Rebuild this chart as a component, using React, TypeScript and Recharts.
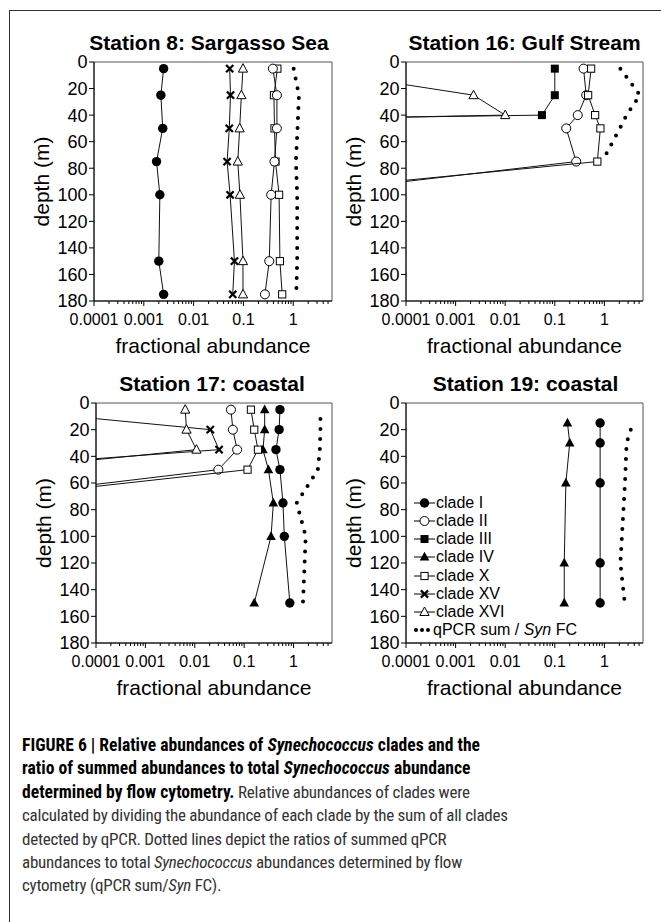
import React from 'react';
import { ScatterChart, Scatter, XAxis, YAxis, ReferenceArea } from 'recharts';

const FONT = 'Liberation Sans, Arial, sans-serif';
const NARROW = 'Roboto Condensed, Liberation Sans, sans-serif';

// axes
const DEPTH_TICKS = [0, 20, 40, 60, 80, 100, 120, 140, 160, 180];
const X_MAJOR = [0.0001, 0.001, 0.01, 0.1, 1];
const X_DOMAIN: [number, number] = [0.0001, 6];
// minor ticks 2..9 inside each decade (axis decoration only)
const X_MINOR = [0.0001, 0.001, 0.01, 0.1, 1]
  .flatMap((d) => [2, 3, 4, 5, 6, 7, 8, 9].map((m) => +(m * d).toPrecision(2)))
  .filter((v) => v < X_DOMAIN[1]);
const X_TICKS = [...X_MAJOR, ...X_MINOR].sort((a, b) => a - b);

// Station 8: Sargasso Sea
const s8Depth = [5, 25, 50, 75, 100, 150, 175];
const s8I = [0.0025, 0.0022, 0.0024, 0.0018, 0.0021, 0.002, 0.0025];
const s8II = [0.39, 0.47, 0.47, 0.42, 0.36, 0.33, 0.27];
const s8X = [0.48, 0.41, 0.42, 0.44, 0.52, 0.54, 0.6];
const s8XV = [0.053, 0.055, 0.052, 0.047, 0.054, 0.066, 0.061];
const s8XVI = [0.098, 0.091, 0.084, 0.077, 0.085, 0.098, 0.098];
const s8Sum = [1.02, 1.3, 1.22, 1.13, 1.2, 1.2, 1.15];

// Station 16: Gulf Stream (near-zero values run off the left edge)
const s16Depth = [5, 25, 40, 50, 75, 100];
const s16II = [0.38, 0.43, 0.29, 0.17, 0.27, 5e-7];
const s16X = [0.54, 0.47, 0.65, 0.83, 0.72, 1e-7];
const s16DepthIII = [5, 25, 40, 50];
const s16III = [0.1, 0.1, 0.055, 1e-20];
const s16XVI = [8e-7, 0.0023, 0.01, 1e-16];
const s16SumDepth = [5, 25, 40, 50, 75];
const s16Sum = [2.1, 5.2, 2.8, 2.05, 0.9];

// Station 17: coastal
const s17Depth = [5, 20, 35, 50, 75, 100, 150];
const s17I = [0.53, 0.51, 0.44, 0.53, 0.61, 0.65, 0.84];
const s17IV = [0.26, 0.26, 0.24, 0.31, 0.39, 0.35, 0.16];
const s17DepthShallow = [5, 20, 35, 50, 75];
const s17II = [0.054, 0.059, 0.072, 0.03, 7e-8];
const s17X = [0.137, 0.16, 0.19, 0.117, 9e-8];
const s17DepthTop = [5, 20, 35, 50];
const s17XV = [1.3e-6, 0.0206, 0.031, 9e-8];
const s17XVI = [0.0064, 0.0068, 0.0108, 9e-7];
const s17SumDepth = [12, 20, 35, 50, 75, 100, 150];
const s17Sum = [3.5, 3.5, 3.4, 3.1, 1.16, 1.76, 1.55];

// Station 19: coastal
const s19Depth = [15, 30, 60, 120, 150];
const s19I = [0.82, 0.82, 0.82, 0.82, 0.82];
const s19IV = [0.18, 0.2, 0.167, 0.155, 0.155];
const s19SumDepth = [20, 30, 60, 120, 150];
const s19Sum = [3.4, 2.8, 2.6, 2.1, 2.57];

const LEGEND = [
  { kind: 'I', label: 'clade I' },
  { kind: 'II', label: 'clade II' },
  { kind: 'III', label: 'clade III' },
  { kind: 'IV', label: 'clade IV' },
  { kind: 'X', label: 'clade X' },
  { kind: 'XV', label: 'clade XV' },
  { kind: 'XVI', label: 'clade XVI' },
];

const pts = (depth: number[], vals: number[]) => depth.map((d, i) => ({ x: vals[i], y: d }));

function Marker({ kind, cx, cy }: { kind: string; cx: number; cy: number }) {
  const k = '#000';
  switch (kind) {
    case 'I':
      return <circle cx={cx} cy={cy} r={4.7} fill={k} />;
    case 'II':
      return <circle cx={cx} cy={cy} r={4.5} fill="#fff" stroke={k} strokeWidth={1} />;
    case 'III':
      return <rect x={cx - 4} y={cy - 4} width={8} height={8} fill={k} />;
    case 'IV':
      return <polygon points={`${cx},${cy - 5.2} ${cx - 4.8},${cy + 3.6} ${cx + 4.8},${cy + 3.6}`} fill={k} />;
    case 'X':
      return <rect x={cx - 3.6} y={cy - 3.6} width={7.2} height={7.2} fill="#fff" stroke={k} strokeWidth={1} />;
    case 'XV':
      return (
        <g stroke={k} strokeWidth={2.2}>
          <line x1={cx - 3.6} y1={cy - 3.6} x2={cx + 3.6} y2={cy + 3.6} />
          <line x1={cx - 3.6} y1={cy + 3.6} x2={cx + 3.6} y2={cy - 3.6} />
        </g>
      );
    case 'XVI':
      return <polygon points={`${cx},${cy - 5} ${cx - 4.6},${cy + 3.5} ${cx + 4.6},${cy + 3.5}`} fill="#fff" stroke={k} strokeWidth={1} />;
    default:
      return <g />;
  }
}

interface Station {
  title: string;
  titleShift: number;
  left: number;
  top: number;
  width: number;
  height: number;
  series: { kind: string; data: { x: number; y: number }[] }[];
  sum: { x: number; y: number }[];
}

const STATIONS: Station[] = [
  {
    title: 'Station 8: Sargasso Sea', titleShift: -4, left: 94, top: 62, width: 238, height: 239,
    series: [
      { kind: 'I', data: pts(s8Depth, s8I) },
      { kind: 'X', data: pts(s8Depth, s8X) },
      { kind: 'II', data: pts(s8Depth, s8II) },
      { kind: 'XV', data: pts(s8Depth, s8XV) },
      { kind: 'XVI', data: pts(s8Depth, s8XVI) },
    ],
    sum: pts(s8Depth, s8Sum),
  },
  {
    title: 'Station 16: Gulf Stream', titleShift: 0, left: 406, top: 62, width: 237, height: 239,
    series: [
      { kind: 'II', data: pts(s16Depth, s16II) },
      { kind: 'III', data: pts(s16DepthIII, s16III) },
      { kind: 'X', data: pts(s16Depth, s16X) },
      { kind: 'XVI', data: pts(s16DepthIII, s16XVI) },
    ],
    sum: pts(s16SumDepth, s16Sum),
  },
  {
    title: 'Station 17: coastal', titleShift: -2, left: 96, top: 403, width: 236, height: 240,
    series: [
      { kind: 'I', data: pts(s17Depth, s17I) },
      { kind: 'II', data: pts(s17DepthShallow, s17II) },
      { kind: 'IV', data: pts(s17Depth, s17IV) },
      { kind: 'X', data: pts(s17DepthShallow, s17X) },
      { kind: 'XV', data: pts(s17DepthTop, s17XV) },
      { kind: 'XVI', data: pts(s17DepthTop, s17XVI) },
    ],
    sum: pts(s17SumDepth, s17Sum),
  },
  {
    title: 'Station 19: coastal', titleShift: 1, left: 406, top: 403, width: 237, height: 240,
    series: [
      { kind: 'I', data: pts(s19Depth, s19I) },
      { kind: 'IV', data: pts(s19Depth, s19IV) },
    ],
    sum: pts(s19SumDepth, s19Sum),
  },
];

const YTick = ({ x, y, payload }: any) => (
  <g>
    <line x1={x - 5} x2={x} y1={y} y2={y} stroke="#000" strokeWidth={1} />
    <text x={x - 6.5} y={y + 6.4} textAnchor="end" fontSize={18} fontFamily={FONT} fill="#000">
      {payload.value}
    </text>
  </g>
);

const XTick = ({ x, y, payload }: any) => {
  const major = X_MAJOR.includes(payload.value);
  return (
    <g>
      <line x1={x} x2={x} y1={y} y2={y + (major ? 5 : 3)} stroke="#000" strokeWidth={1} />
      {major && (
        <text x={x} y={y + 23.5} textAnchor="middle" fontSize={16} fontFamily={FONT} fill="#000">
          {String(payload.value)}
        </text>
      )}
    </g>
  );
};

const YL = 90; // y-axis band width
const XH = 60; // x-axis band height

function Panel({ st }: { st: Station }) {
  const w = YL + st.width + 10;
  const h = 10 + st.height + XH;
  return (
    <div style={{ position: 'absolute', left: st.left - YL, top: st.top - 10, width: w, height: h }}>
      <ScatterChart width={w} height={h} margin={{ top: 10, right: 10, bottom: 0, left: 0 }}>
        <XAxis
          type="number"
          dataKey="x"
          scale="log"
          domain={X_DOMAIN}
          allowDataOverflow
          ticks={X_TICKS}
          interval={0}
          tickSize={0}
          tickMargin={0}
          tick={<XTick />}
          height={XH}
          axisLine={{ stroke: '#000', strokeWidth: 1 }}
          label={{ value: 'fractional abundance', position: 'insideBottom', offset: 8, fontSize: 21, fontFamily: FONT, fill: '#000' }}
        />
        <YAxis
          type="number"
          dataKey="y"
          reversed
          domain={[0, 180]}
          ticks={DEPTH_TICKS}
          interval={0}
          tickSize={0}
          tickMargin={0}
          tick={<YTick />}
          width={YL}
          axisLine={{ stroke: '#000', strokeWidth: 1 }}
          label={{ value: 'depth (m)', angle: -90, position: 'insideLeft', offset: 38, fontSize: 21, fontFamily: FONT, fill: '#000', style: { textAnchor: 'middle' } }}
        />
        <ReferenceArea x1={X_DOMAIN[0]} x2={X_DOMAIN[1]} y1={0} y2={180} fill="none" stroke="#555" strokeWidth={1} />
        {st.series.map((s) => (
          <Scatter
            key={s.kind}
            data={s.data}
            fill="#000"
            line={{ stroke: '#111', strokeWidth: 1 }}
            shape={(p: any) => <Marker kind={s.kind} cx={p.cx} cy={p.cy} />}
            isAnimationActive={false}
          />
        ))}
        <Scatter
          data={st.sum}
          fill="#000"
          line={{ stroke: '#000', strokeWidth: 4, strokeDasharray: '0 10', strokeLinecap: 'round' }}
          shape={() => <g />}
          isAnimationActive={false}
        />
      </ScatterChart>
    </div>
  );
}

function Legend() {
  const top0 = 502.7;
  const step = 18.2;
  return (
    <div style={{ position: 'absolute', left: 413, top: 0, fontFamily: FONT, fontSize: 16, color: '#000' }}>
      {LEGEND.map((l, i) => (
        <div key={l.kind} style={{ position: 'absolute', left: 0, top: top0 + i * step - 9, height: 18, whiteSpace: 'nowrap', display: 'flex', alignItems: 'center' }}>
          <svg width={23} height={18} style={{ display: 'block' }}>
            <line x1={1} x2={22} y1={9} y2={9} stroke="#000" strokeWidth={1} />
            <Marker kind={l.kind} cx={11.5} cy={9} />
          </svg>
          <span style={{ lineHeight: '18px' }}>{l.label}</span>
        </div>
      ))}
      <div style={{ position: 'absolute', left: 0, top: top0 + 7 * step - 9, height: 18, whiteSpace: 'nowrap', display: 'flex', alignItems: 'center' }}>
        <svg width={20} height={18} style={{ display: 'block' }}>
          <circle cx={3} cy={9} r={2} fill="#000" />
          <circle cx={9} cy={9} r={2} fill="#000" />
          <circle cx={15} cy={9} r={2} fill="#000" />
        </svg>
        <span style={{ lineHeight: '18px' }}>
          qPCR sum / <i>Syn</i> FC
        </span>
      </div>
    </div>
  );
}

const BOLD: React.CSSProperties = { fontWeight: 'bold', color: '#000', fontSize: 17.6, letterSpacing: 0 };

export default function App() {
  return (
    <div style={{ position: 'absolute', left: 0, top: 0, width: 661, height: 922, background: '#fff', overflow: 'hidden' }}>
      <div style={{ position: 'absolute', left: 9, top: 10, width: 660, height: 920, borderLeft: '1px solid #333', borderTop: '1px solid #333' }} />
      {STATIONS.map((st) => (
        <React.Fragment key={st.title}>
          <div
            style={{
              position: 'absolute', left: st.left - 40 + st.titleShift, width: st.width + 80, top: st.top - 30.5, textAlign: 'center',
              fontFamily: FONT, fontWeight: 'bold', fontSize: 21, lineHeight: '21px', color: '#000', whiteSpace: 'nowrap',
            }}
          >
            {st.title}
          </div>
          <Panel st={st} />
        </React.Fragment>
      ))}
      <Legend />
      <div style={{ position: 'absolute', left: 22, top: 734, fontFamily: NARROW, fontSize: 17, letterSpacing: -0.25, lineHeight: '23.4px', color: '#333', whiteSpace: 'nowrap' }}>
        <div style={BOLD}>FIGURE 6 | Relative abundances of <i>Synechococcus</i> clades and the</div>
        <div style={BOLD}>ratio of summed abundances to total <i>Synechococcus</i> abundance</div>
        <div><span style={BOLD}>determined by flow cytometry.</span> Relative abundances of clades were</div>
        <div>calculated by dividing the abundance of each clade by the sum of all clades</div>
        <div>detected by qPCR. Dotted lines depict the ratios of summed qPCR</div>
        <div>abundances to total <i>Synechococcus</i> abundances determined by flow</div>
        <div>cytometry (qPCR sum/<i>Syn</i> FC).</div>
      </div>
    </div>
  );
}
